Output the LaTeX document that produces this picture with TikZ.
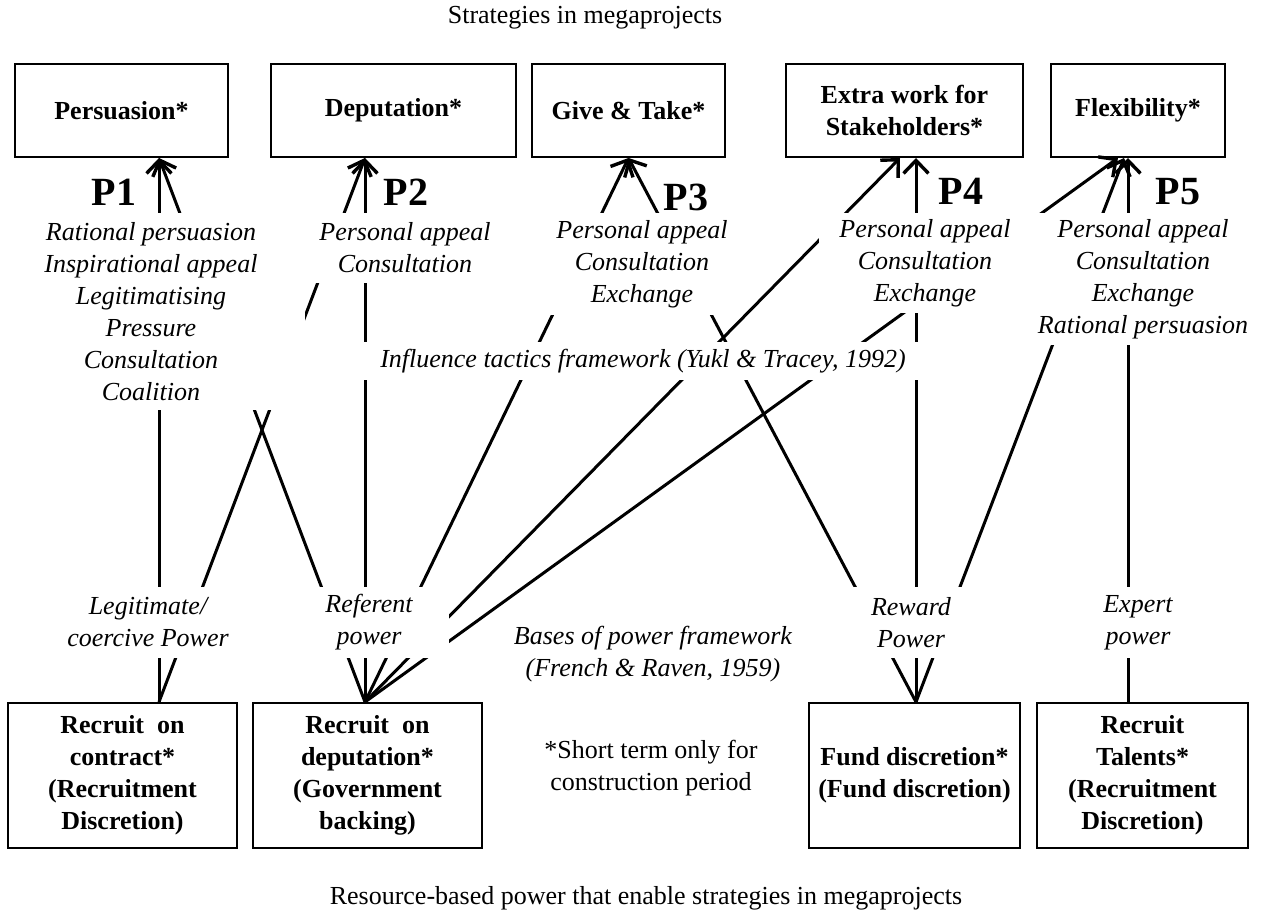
\documentclass[tikz,border=0pt]{standalone}
\usepackage{fontspec}
\setmainfont{Liberation Serif}
\usetikzlibrary{arrows.meta}

\begin{document}
\begin{tikzpicture}[x=0.5pt,y=-0.5pt]
	\tikzstyle{strategy}=[draw,line width=1pt,align=center,inner sep=2pt,minimum height=46.5pt,font=\fontsize{13}{16}\selectfont\bfseries]
	\tikzstyle{resource}=[strategy,minimum height=72.5pt]
	\tikzstyle{tactic}=[fill=white,align=center,inner sep=0pt,font=\fontsize{13}{16}\selectfont\itshape]
	\tikzstyle{prop}=[font=\fontsize{20}{24}\selectfont\bfseries]
	\tikzstyle{caption}=[font=\fontsize{13}{16}\selectfont]
	\tikzstyle{link}=[line width=1.5pt,-{Straight Barb[length=6.5pt,width=12.5pt,line width=1.7pt]}]

	\useasboundingbox (0,0) rectangle (1266,913);

	% strategies
	\node[caption] (title) at (585,18) {Strategies in megaprojects};
	\node[strategy,minimum width=106.5pt] (pers) at (121.5,110.5) {Persuasion*};
	\node[strategy,minimum width=122.5pt] (dep) at (393.5,110.5) {Deputation*};
	\node[strategy,minimum width=96.5pt] (gt) at (628.5,110.5) {Give \& Take*};
	\node[strategy,minimum width=118.5pt] (extra) at (904.5,110.5) {Extra work for\\Stakeholders*};
	\node[strategy,minimum width=87pt] (flex) at (1138,110.5) {Flexibility*};

	\node[prop] (p1) at (114,192) {P1};
	\node[prop] (p2) at (406,192) {P2};
	\node[prop] (p3) at (686,197) {P3};
	\node[prop] (p4) at (961,191) {P4};
	\node[prop] (p5) at (1178,192) {P5};

	% resources
	\node[resource,minimum width=114.5pt] (contract) at (122.5,775.5) {Recruit~ on\\contract*\\(Recruitment\\Discretion)};
	\node[resource,minimum width=114.5pt] (depb) at (367.5,775.5) {Recruit~ on\\deputation*\\(Government\\backing)};
	\node[resource,minimum width=105.5pt] (fund) at (914.5,775.5) {Fund discretion*\\(Fund discretion)};
	\node[resource,minimum width=105.5pt] (talent) at (1142.5,775.5) {Recruit\\Talents*\\(Recruitment\\Discretion)};

	\draw[link] ([xshift=18.25pt]contract.north) -- ([xshift=18.75pt]pers.south);
	\draw[link] ([xshift=18.25pt]contract.north) -- ([xshift=-14.25pt]dep.south);
	\draw[link] ([xshift=-1.25pt]depb.north) -- ([xshift=18.75pt]pers.south);
	\draw[link] ([xshift=-1.25pt]depb.north) -- ([xshift=-14.25pt]dep.south);
	\draw[link] ([xshift=-1.25pt]depb.north) -- (gt.south);
	\draw[link] ([xshift=-1.25pt]depb.north) -- ([xshift=-2.25pt]extra.south);
	\draw[link] ([xshift=-1.25pt]depb.north) -- ([xshift=-10pt]flex.south);
	\draw[link] ([xshift=0.75pt]fund.north) -- (gt.south);
	\draw[link] ([xshift=0.75pt]fund.north) -- ([xshift=5.75pt]extra.south);
	\draw[link] ([xshift=0.75pt]fund.north) -- ([xshift=-7pt]flex.south);
	\draw[link] ([xshift=-7.25pt]talent.north) -- ([xshift=-5pt]flex.south);

	% influence tactics
	\node[tactic,minimum width=154pt,minimum height=98.5pt] (t1) at (151,311.5) {Rational persuasion\\Inspirational appeal\\Legitimatising\\Pressure\\Consultation\\Coalition};
	\node[tactic,minimum width=90pt,minimum height=35pt] (t2) at (405,248) {Personal appeal\\Consultation};
	\node[tactic,minimum width=94pt,minimum height=51pt] (t3) at (642,264) {Personal appeal\\Consultation\\Exchange};
	\node[tactic,minimum width=106pt,minimum height=50pt] (t4) at (925,263) {Personal appeal\\Consultation\\Exchange};
	\node[tactic,minimum width=113pt,minimum height=66pt] (t5) at (1143,279) {Personal appeal\\Consultation\\Exchange\\Rational persuasion};
	\node[tactic,minimum width=313pt,minimum height=19pt] (yukl) at (643,361) {Influence tactics framework (Yukl \& Tracey, 1992)};

	% bases of power
	\node[tactic,minimum width=88pt,minimum height=35.5pt] (b1) at (148,622.5) {Legitimate/\\coercive Power};
	\node[tactic,minimum width=80pt,minimum height=35.5pt] (b2) at (369,622.5) {Referent\\power};
	\node[tactic] (french) at (653,654) {Bases of power framework\\(French \& Raven, 1959)};
	\node[tactic,minimum width=61pt,minimum height=35.5pt] (b3) at (911,622.5) {Reward\\Power};
	\node[tactic,minimum width=50pt,minimum height=35.5pt] (b4) at (1138,622.5) {Expert\\power};

	\node[caption,align=center] (note) at (651,768) {*Short term only for\\construction period};
	\node[caption] (bottom) at (646,898) {Resource-based power that enable strategies in megaprojects};
\end{tikzpicture}
\end{document}
